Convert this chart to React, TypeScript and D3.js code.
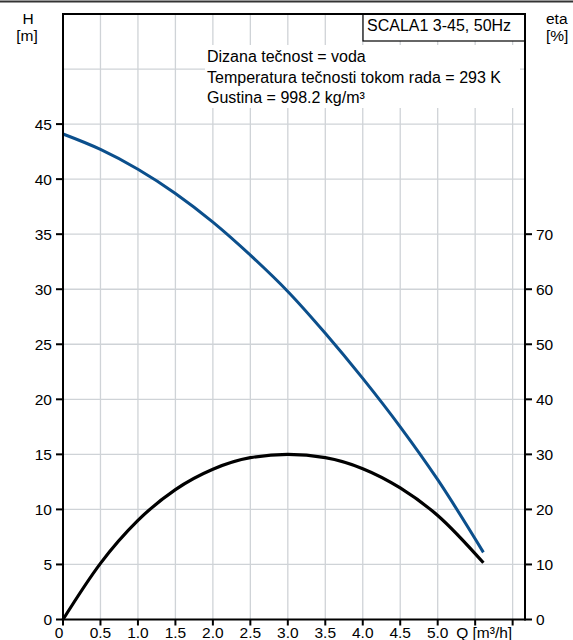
import React from "react";
import * as d3 from "d3";

const qH = [0, 0.5, 1.0, 1.5, 2.0, 2.5, 3.0, 3.5, 4.0, 4.5, 5.0, 5.61];
const hValues = [44.1, 42.7, 40.9, 38.7, 36.1, 33.1, 29.8, 26.0, 21.9, 17.5, 12.7, 6.1];

const qEta = [0, 0.5, 1.0, 1.5, 2.0, 2.5, 3.0, 3.5, 4.0, 4.5, 5.0, 5.61];
const etaValues = [0, 10.2, 18.0, 23.6, 27.3, 29.4, 30.0, 29.4, 27.4, 23.9, 18.9, 10.3];

const qTicks = [0, 0.5, 1.0, 1.5, 2.0, 2.5, 3.0, 3.5, 4.0, 4.5, 5.0, 5.5, 6.0];
const qTickLabels = ["0", "0.5", "1.0", "1.5", "2.0", "2.5", "3.0", "3.5", "4.0", "4.5", "5.0"];
const hTicks = [0, 5, 10, 15, 20, 25, 30, 35, 40, 45];
const hGrid = [5, 10, 15, 20, 25, 30, 35, 40, 45, 50];
const etaTicks = [0, 10, 20, 30, 40, 50, 60, 70];

const titleText = "SCALA1 3-45, 50Hz";
const infoLines = [
  "Dizana tečnost = voda",
  "Temperatura tečnosti tokom rada = 293 K",
  "Gustina = 998.2 kg/m³",
];

const W = 573;
const H = 640;
const left = 63;
const right = 525;
const top = 14;
const bottom = 619.5;
const font = "'Liberation Sans', Arial, sans-serif";
const fs = 16;
const tfs = 15.5;

export default function App() {
  const x = d3.scaleLinear().domain([0, 6.165]).range([left, right]);
  const y = d3.scaleLinear().domain([0, 55]).range([bottom, top]);
  const yEta = d3.scaleLinear().domain([0, 110]).range([bottom, top]);

  const hLine = d3
    .line<number>()
    .x((_, i) => x(qH[i]))
    .y((d) => y(d))
    .curve(d3.curveMonotoneX);
  const etaLine = d3
    .line<number>()
    .x((_, i) => x(qEta[i]))
    .y((d) => yEta(d))
    .curve(d3.curveMonotoneX);

  const gridColor = "#cfd3d7";

  return (
    <>
      <style>{`body{margin:0}`}</style>
      <svg width={W} height={H} style={{ display: "block", background: "#fff" }} fontFamily={font}>
        <line x1={0} x2={W} y1={1.5} y2={1.5} stroke="#333" strokeWidth={1.8} />
        {/* grid */}
        {qTicks.slice(1).map((q) => (
          <line key={"vg" + q} x1={x(q)} x2={x(q)} y1={top} y2={bottom} stroke={gridColor} strokeWidth={1.3} />
        ))}
        {hGrid.map((h) => (
          <line key={"hg" + h} x1={left} x2={right} y1={y(h)} y2={y(h)} stroke={gridColor} strokeWidth={1.3} />
        ))}
        {/* info box */}
        <rect x={205} y={45} width={315} height={63} fill="#fff" />
        {infoLines.map((t, i) => (
          <text key={t} x={207} y={62 + i * 20.5} fontSize={fs} fill="#000">
            {t}
          </text>
        ))}
        {/* title box */}
        <rect x={363} y={top} width={right - 363} height={27} fill="#fff" stroke="#000" strokeWidth={1.2} />
        <text x={367} y={31} fontSize={fs} fill="#000">
          {titleText}
        </text>
        {/* curves */}
        <path d={hLine(hValues) || ""} fill="none" stroke="#0b4f8c" strokeWidth={3} />
        <path d={etaLine(etaValues) || ""} fill="none" stroke="#000" strokeWidth={3.2} />
        {/* frame */}
        <line x1={left} x2={right} y1={top} y2={top} stroke="#000" strokeWidth={2} />
        <line x1={left} x2={left} y1={top - 1} y2={bottom + 1} stroke="#000" strokeWidth={2} />
        <line x1={right} x2={right} y1={top - 1} y2={bottom + 1} stroke="#000" strokeWidth={2} />
        <line x1={left} x2={right} y1={bottom} y2={bottom} stroke="#000" strokeWidth={2} />
        {/* left ticks */}
        {hTicks.map((h) => (
          <g key={"lt" + h}>
            <line x1={56} x2={left} y1={y(h)} y2={y(h)} stroke="#000" strokeWidth={2} />
            <text x={52} y={y(h)} dy="0.35em" textAnchor="end" fontSize={tfs} fill="#000">
              {h}
            </text>
          </g>
        ))}
        {/* right ticks */}
        {etaTicks.map((e) => (
          <g key={"rt" + e}>
            <line x1={right} x2={532} y1={yEta(e)} y2={yEta(e)} stroke="#000" strokeWidth={2} />
            <text x={536} y={yEta(e)} dy="0.35em" textAnchor="start" fontSize={tfs} fill="#000">
              {e}
            </text>
          </g>
        ))}
        {/* bottom ticks */}
        {qTicks.map((q) => (
          <line key={"bt" + q} x1={x(q)} x2={x(q)} y1={bottom} y2={bottom + 6} stroke="#000" strokeWidth={2} />
        ))}
        {qTickLabels.map((t, i) => (
          <text key={"bl" + t} x={x(qTicks[i]) - (i === 0 ? 4 : 0)} y={638} textAnchor="middle" fontSize={tfs} fill="#000">
            {t}
          </text>
        ))}
        <text x={x(5.5) - 19} y={638} fontSize={tfs} fill="#000">
          Q [m³/h]
        </text>
        {/* axis titles */}
        <text x={28} y={24} textAnchor="middle" fontSize={tfs} fill="#000">H</text>
        <text x={27} y={41} textAnchor="middle" fontSize={tfs} fill="#000">[m]</text>
        <text x={546} y={24} fontSize={tfs} fill="#000">eta</text>
        <text x={546} y={41} fontSize={tfs} fill="#000">[%]</text>
      </svg>
    </>
  );
}
